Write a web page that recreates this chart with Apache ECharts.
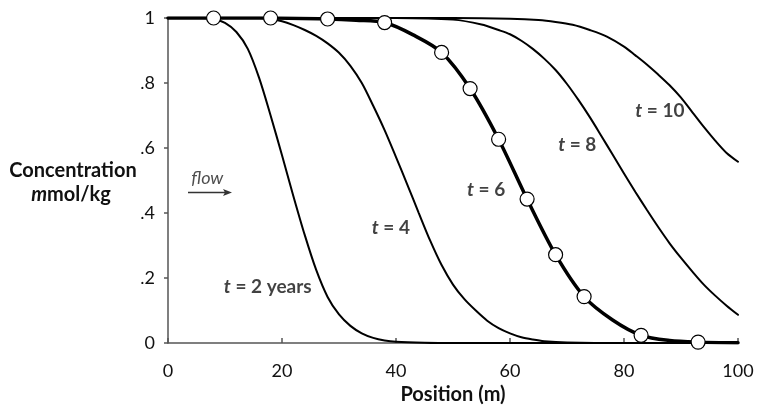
<!DOCTYPE html>
<html>
<head>
<meta charset="utf-8">
<script src="https://cdn.jsdelivr.net/npm/echarts@6/dist/echarts.min.js"></script>
<style>
html,body{margin:0;padding:0;background:#fff;}
#main{width:759px;height:410px;}
</style>
</head>
<body>
<div id="main"></div>
<script>
// ---- data ----
const xTicks = [0, 20, 40, 60, 80, 100];
const yTickLabels = ['0', '.2', '.4', '.6', '.8', '1'];

const t2X = [0, 6, 8, 10, 12, 14, 16, 18, 20, 22, 24, 26, 28, 30, 32, 34, 36, 38, 40, 45, 50, 60, 70, 80, 90, 100];
const t2Y = [1, 1, 0.997, 0.985, 0.957, 0.905, 0.815, 0.70, 0.578, 0.452, 0.332, 0.225, 0.142, 0.088, 0.053, 0.03, 0.016, 0.008, 0.004, 0.001, 0, 0, 0, 0, 0, 0];

const t4X = [0, 16, 18, 20, 22, 24, 26, 28, 30, 32, 34, 36, 38, 40, 42, 44, 46, 48, 50, 52, 54, 56, 58, 60, 62, 64, 66, 70, 80, 90, 100];
const t4Y = [1, 1, 0.997, 0.99, 0.978, 0.963, 0.945, 0.922, 0.893, 0.853, 0.80, 0.73, 0.655, 0.572, 0.487, 0.40, 0.315, 0.24, 0.18, 0.135, 0.10, 0.069, 0.046, 0.03, 0.018, 0.011, 0.006, 0.002, 0, 0, 0];

const t6X = [0, 8, 18, 28, 33, 38, 43, 48, 53, 58, 63, 68, 73, 78, 83, 88, 93, 100];
const t6Y = [1, 1, 1, 0.997, 0.993, 0.986, 0.948, 0.894, 0.783, 0.627, 0.443, 0.272, 0.143, 0.071, 0.024, 0.008, 0.003, 0.001];

const t8X = [0, 40, 50, 55, 58, 60, 62, 64, 66, 68, 70, 72, 74, 76, 78, 80, 82, 84, 86, 88, 90, 92, 94, 96, 98, 100];
const t8Y = [1, 1, 0.995, 0.98, 0.963, 0.95, 0.93, 0.905, 0.875, 0.84, 0.797, 0.748, 0.695, 0.638, 0.58, 0.522, 0.465, 0.41, 0.357, 0.307, 0.262, 0.22, 0.18, 0.146, 0.115, 0.087];

const t10X = [0, 50, 60, 65, 68, 71, 74, 77, 80, 82, 84, 86, 88, 90, 92, 94, 96, 98, 100];
const t10Y = [1, 1, 0.998, 0.994, 0.988, 0.979, 0.963, 0.943, 0.912, 0.885, 0.857, 0.826, 0.793, 0.755, 0.71, 0.665, 0.623, 0.585, 0.558];

// measured points (open circles) on the t = 6 curve
const obsX = [8, 18, 28, 38, 48, 53, 58, 63, 68, 73, 83, 93];
const obsY = [1.0, 1.0, 0.997, 0.986, 0.894, 0.783, 0.627, 0.443, 0.272, 0.143, 0.024, 0.003];

// curve annotations (anchor in data units)
const curveLabels = [
  {text: '{i|t} = 2 years', x: 17.5, y: 0.174},
  {text: '{i|t} = 4', x: 39.1, y: 0.355},
  {text: '{i|t} = 6', x: 55.8, y: 0.472},
  {text: '{i|t} = 8', x: 71.8, y: 0.609},
  {text: '{i|t} = 10', x: 86.3, y: 0.713}
];
const flowLabel = {text: 'flow', x: 6.9, y: 0.508};

const FONT = 'Lato';
const zip = (a, b) => a.map((v, i) => [v, b[i]]);

const chart = echarts.init(document.getElementById('main'), null, {renderer: 'canvas'});

function curve(name, xs, ys, width) {
  return {
    name, type: 'line', data: zip(xs, ys), smooth: 0.3,
    showSymbol: false, symbol: 'none', silent: true,
    lineStyle: {color: '#000', width: width, cap: 'round'}, z: 2
  };
}

const option = {
  animation: false,
  backgroundColor: '#fff',
  textStyle: {fontFamily: FONT},
  grid: {left: 168, right: 21, top: 18, bottom: 65, containLabel: false},
  xAxis: {
    type: 'value', min: 0, max: 100, interval: 20, offset: 10,
    axisLine: {show: true, lineStyle: {color: '#555', width: 1.5}},
    axisTick: {show: true, inside: true, length: 5, lineStyle: {color: '#555', width: 1.5}},
    axisLabel: {color: '#111', fontSize: 18, fontFamily: FONT, margin: 9,
      formatter: v => xTicks.includes(v) ? String(v) : ''},
    splitLine: {show: false},
    name: 'Position (m)', nameLocation: 'middle', nameGap: 30,
    nameTextStyle: {color: '#111', fontSize: 20, fontWeight: 'bold', fontFamily: FONT}
  },
  yAxis: {
    type: 'value', min: 0, max: 1, interval: 0.2, offset: 8,
    axisLine: {show: true, lineStyle: {color: '#555', width: 1.5}},
    axisTick: {show: true, inside: false, length: 4, lineStyle: {color: '#555', width: 1.5}},
    axisLabel: {color: '#111', fontSize: 18, fontFamily: FONT, margin: 5,
      formatter: v => yTickLabels[Math.round(v * 5)]},
    splitLine: {show: false}
  },
  series: [
    curve('t=2', t2X, t2Y, 2),
    curve('t=4', t4X, t4Y, 2),
    curve('t=8', t8X, t8Y, 2),
    curve('t=10', t10X, t10Y, 2),
    curve('t=6', t6X, t6Y, 3.5),
    {
      name: 'observed', type: 'scatter', data: zip(obsX, obsY), symbol: 'circle', symbolSize: 14,
      itemStyle: {color: '#fff', borderColor: '#000', borderWidth: 1.2, opacity: 1}, z: 5, silent: true
    },
    {
      name: 'labels', type: 'scatter', symbolSize: 0, silent: true, z: 6,
      data: curveLabels.map(l => ({value: [l.x, l.y], name: l.text})),
      label: {
        show: true, position: 'inside', formatter: p => p.name,
        color: '#111', fontSize: 19, fontWeight: 'bold', fontFamily: FONT,
        rich: {i: {fontStyle: 'italic', fontWeight: 'bold', fontSize: 19, fontFamily: FONT, color: '#111'}}
      }
    },
    {
      name: 'flow', type: 'scatter', symbolSize: 0, silent: true, z: 6,
      data: [{value: [flowLabel.x, flowLabel.y], name: flowLabel.text}],
      label: {show: true, position: 'inside', formatter: p => p.name,
        color: '#222', fontSize: 18, fontStyle: 'italic', fontFamily: FONT}
    }
  ],
  graphic: [
    {
      type: 'text', x: 73, y: 171,
      style: {text: 'Concentration', fontSize: 20, fontWeight: 'bold', fontFamily: FONT, fill: '#111',
        align: 'center', verticalAlign: 'middle'}
    },
    {
      type: 'text', x: 71, y: 195,
      style: {
        text: '{i|m}mol/kg', fontSize: 20, fontWeight: 'bold', fontFamily: FONT, fill: '#111',
        align: 'center', verticalAlign: 'middle',
        rich: {i: {fontStyle: 'italic', fontWeight: 'bold', fontSize: 20, fontFamily: FONT, fill: '#111'}}
      }
    },
    {
      type: 'line', shape: {x1: 188, y1: 192.5, x2: 226, y2: 192.5},
      style: {stroke: '#333', lineWidth: 1.3}
    },
    {
      type: 'polygon', shape: {points: [[232, 192.5], [223, 189], [225, 192.5], [223, 196]]},
      style: {fill: '#333'}
    }
  ]
};
chart.setOption(option);
</script>
</body>
</html>
